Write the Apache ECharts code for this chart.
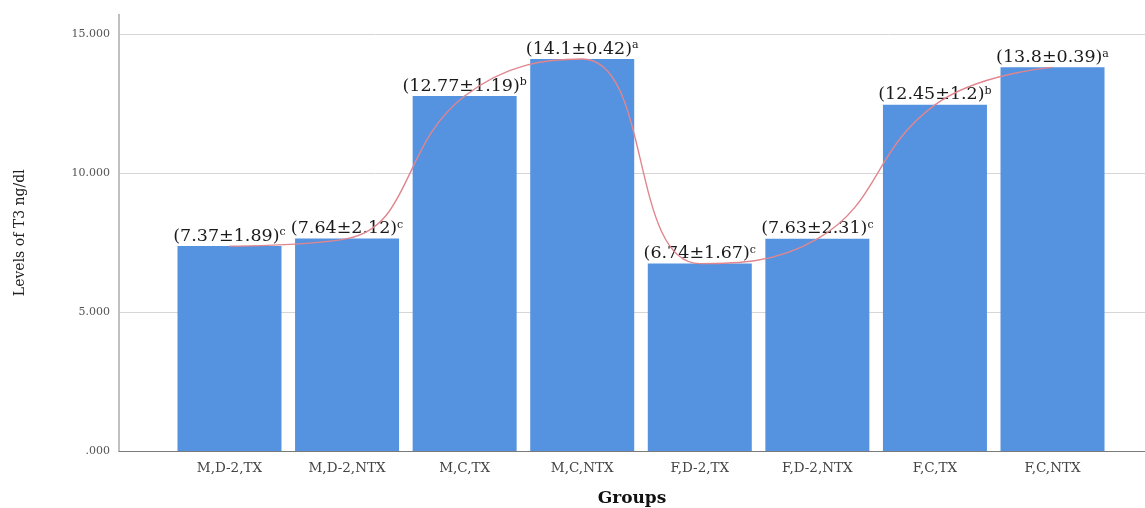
<!DOCTYPE html>
<html>
<head>
<meta charset="utf-8">
<script src="https://cdn.jsdelivr.net/npm/echarts@6/dist/echarts.min.js"></script>
<style>html,body{margin:0;padding:0;background:#fff;}#c{width:1145px;height:508px;}</style>
</head>
<body>
<div id="c"></div>
<script>
const categories = ['M,D-2,TX', 'M,D-2,NTX', 'M,C,TX', 'M,C,NTX', 'F,D-2,TX', 'F,D-2,NTX', 'F,C,TX', 'F,C,NTX'];
const means = [7.37, 7.64, 12.77, 14.1, 6.74, 7.63, 12.45, 13.8];
const sds = [1.89, 2.12, 1.19, 0.42, 1.67, 2.31, 1.2, 0.39];
const letters = ['c', 'c', 'b', 'a', 'c', 'c', 'b', 'a'];
const yTicks = [0, 5, 10, 15];

const serif = '"DejaVu Serif", "Liberation Serif", serif';
const chart = echarts.init(document.getElementById('c'), null, {renderer: 'canvas'});
const yMax = 15.7;
chart.setOption({
  animation: false,
  backgroundColor: '#fff',
  grid: [
    {left: 119, right: 0, top: 14.5, bottom: 57, outerBoundsMode: 'none', containLabel: false},
    {left: 170.7, right: 33.7, top: 14.5, bottom: 57, outerBoundsMode: 'none', containLabel: false}
  ],
  xAxis: [
    {
      gridIndex: 0, type: 'value', min: 0, max: 1,
      axisLine: {show: true, lineStyle: {color: '#7a7a7a', width: 1.2}},
      axisTick: {show: false}, axisLabel: {show: false}, splitLine: {show: false},
      name: 'Groups', nameLocation: 'middle', nameGap: 39,
      nameTextStyle: {fontFamily: serif, fontSize: 17, fontWeight: 'bold', color: '#111'}
    },
    {
      gridIndex: 1, type: 'category', data: categories,
      axisLine: {show: false}, axisTick: {show: false},
      axisLabel: {fontFamily: serif, fontSize: 13.5, color: '#444', margin: 10}
    }
  ],
  yAxis: [
    {
      gridIndex: 0, type: 'value', min: 0, max: yMax, interval: 5,
      axisLine: {show: true, lineStyle: {color: '#b0b0b0', width: 1.6}},
      axisTick: {show: false},
      axisLabel: {
        fontFamily: serif, fontSize: 11, color: '#555', margin: 9, showMaxLabel: false,
        formatter: v => (yTicks.indexOf(v) >= 0 ? (v === 0 ? '.000' : v.toFixed(3)) : '')
      },
      splitLine: {show: true, showMaxLine: false, lineStyle: {color: '#d6d6d6', width: 1}},
      name: 'Levels of T3 ng/dl', nameLocation: 'middle', nameGap: 92, nameRotate: 90,
      nameTextStyle: {fontFamily: serif, fontSize: 14, color: '#222'}
    },
    {
      gridIndex: 1, type: 'value', min: 0, max: yMax, show: false
    }
  ],
  series: [
    {
      type: 'bar', xAxisIndex: 1, yAxisIndex: 1, data: means,
      barWidth: 104,
      itemStyle: {color: '#5592e0'},
      label: {
        show: true, position: 'top', distance: 1,
        formatter: p => '{m|(' + String(means[p.dataIndex]) + '±' + String(sds[p.dataIndex]) + ')}{s|' + letters[p.dataIndex] + '}',
        rich: {
          m: {fontFamily: serif, fontSize: 17.5, color: '#1a1a1a', lineHeight: 18},
          s: {fontFamily: serif, fontSize: 11, color: '#1a1a1a', verticalAlign: 'top', lineHeight: 18}
        }
      },
      z: 2
    },
    {
      type: 'line', xAxisIndex: 1, yAxisIndex: 1, data: means,
      smooth: 0.45, symbol: 'none',
      lineStyle: {color: '#e0868e', width: 1.4},
      z: 3
    }
  ]
});
</script>
</body>
</html>
